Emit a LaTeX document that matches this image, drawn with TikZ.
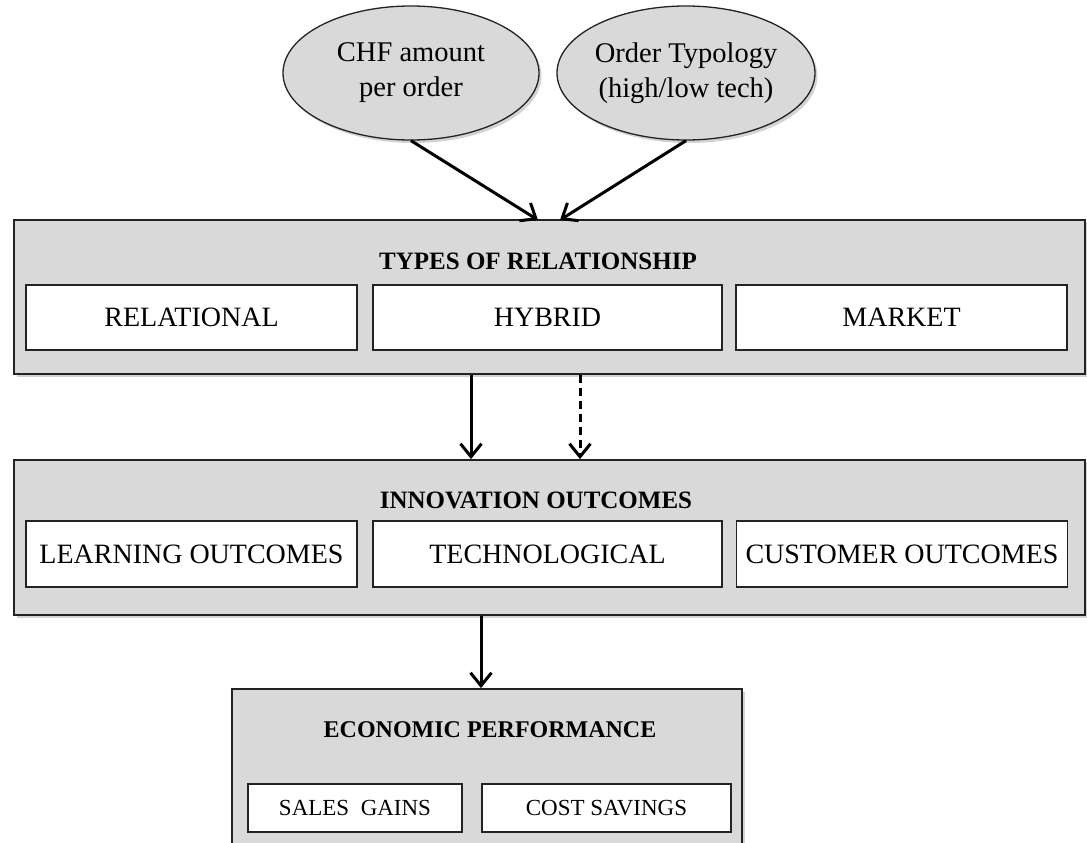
\documentclass[tikz,border=0pt]{standalone}
\usepackage{fontspec}
\setmainfont{Liberation Serif}
\usetikzlibrary{shapes.geometric,shadows,arrows.meta}
\definecolor{panelgray}{RGB}{217,217,217}
\definecolor{edge}{RGB}{35,35,35}
\begin{document}
\begin{tikzpicture}[x=1pt,y=-1pt,
  softshadow/.style={drop shadow={shadow xshift=2.5pt,shadow yshift=-3pt,opacity=0.35}},
  panel/.style={draw=edge,line width=1.8pt,fill=panelgray,softshadow,inner sep=0pt},
  item/.style={draw=edge,line width=1.3pt,fill=white,inner sep=0pt,
    font=\fontsize{28}{32}\selectfont},
  smallitem/.style={item,font=\fontsize{23}{28}\selectfont},
  heading/.style={inner sep=0pt,font=\bfseries\fontsize{25}{30}\selectfont},
  factor/.style={ellipse,draw=edge,line width=1.3pt,fill=panelgray,softshadow,
    minimum width=256pt,minimum height=134pt,inner sep=0pt,align=center,
    font=\fontsize{28.5}{35}\selectfont},
  link/.style={line width=3pt,-{Straight Barb[length=13pt,width=21pt]}},
]
\clip (0,0) rectangle (1087,843);

% influencing factors
\node[factor] (amount) at (411,73) {CHF amount\\per order};
\node[factor] (typology) at (686,73) {Order Typology\\(high/low tech)};

% types of relationship
\node[panel,minimum width=1071pt,minimum height=154pt] (types) at (549.5,297) {};
\node[heading] (typesT) at (538,261) {TYPES OF RELATIONSHIP};
\node[item,minimum width=331pt,minimum height=65pt] (relational) at (191.5,317.5) {RELATIONAL};
\node[item,minimum width=349pt,minimum height=65pt] (hybrid) at (547.5,317.5) {HYBRID};
\node[item,minimum width=331pt,minimum height=65pt] (market) at (901.5,317.5) {MARKET};

% innovation outcomes
\node[panel,minimum width=1071pt,minimum height=155pt] (innov) at (549.5,537.5) {};
\node[heading] (innovT) at (536,500) {INNOVATION OUTCOMES};
\node[item,minimum width=331pt,minimum height=66pt] (learning) at (191.5,554) {LEARNING OUTCOMES};
\node[item,minimum width=349pt,minimum height=66pt] (techno) at (547.5,554) {TECHNOLOGICAL};
\node[item,minimum width=331pt,minimum height=66pt] (customer) at (902,554) {CUSTOMER OUTCOMES};

% economic performance
\node[panel,minimum width=510pt,minimum height=182pt] (econ) at (487,780) {};
\node[heading,font=\bfseries\fontsize{24}{28}\selectfont] (econT) at (490,730) {ECONOMIC PERFORMANCE};
\node[smallitem,minimum width=214pt,minimum height=48pt] (sales) at (355,808) {SALES\ \ GAINS};
\node[smallitem,minimum width=249pt,minimum height=48pt] (cost) at (606.5,808) {COST SAVINGS};

% connectors
\coordinate (inA) at (538,220);
\coordinate (inB) at (560,220);
\draw[link] (amount.south) -- (inA);
\draw[link] (typology.south) -- (inB);

\draw[link] (types.south -| 471,0) -- (innov.north -| 471,0);
\draw[link,dash pattern=on 8pt off 5pt] (types.south -| 580,0) -- (innov.north -| 580,0);
\draw[link] (innov.south -| 481,0) -- (econ.north -| 481,0);
\end{tikzpicture}
\end{document}
